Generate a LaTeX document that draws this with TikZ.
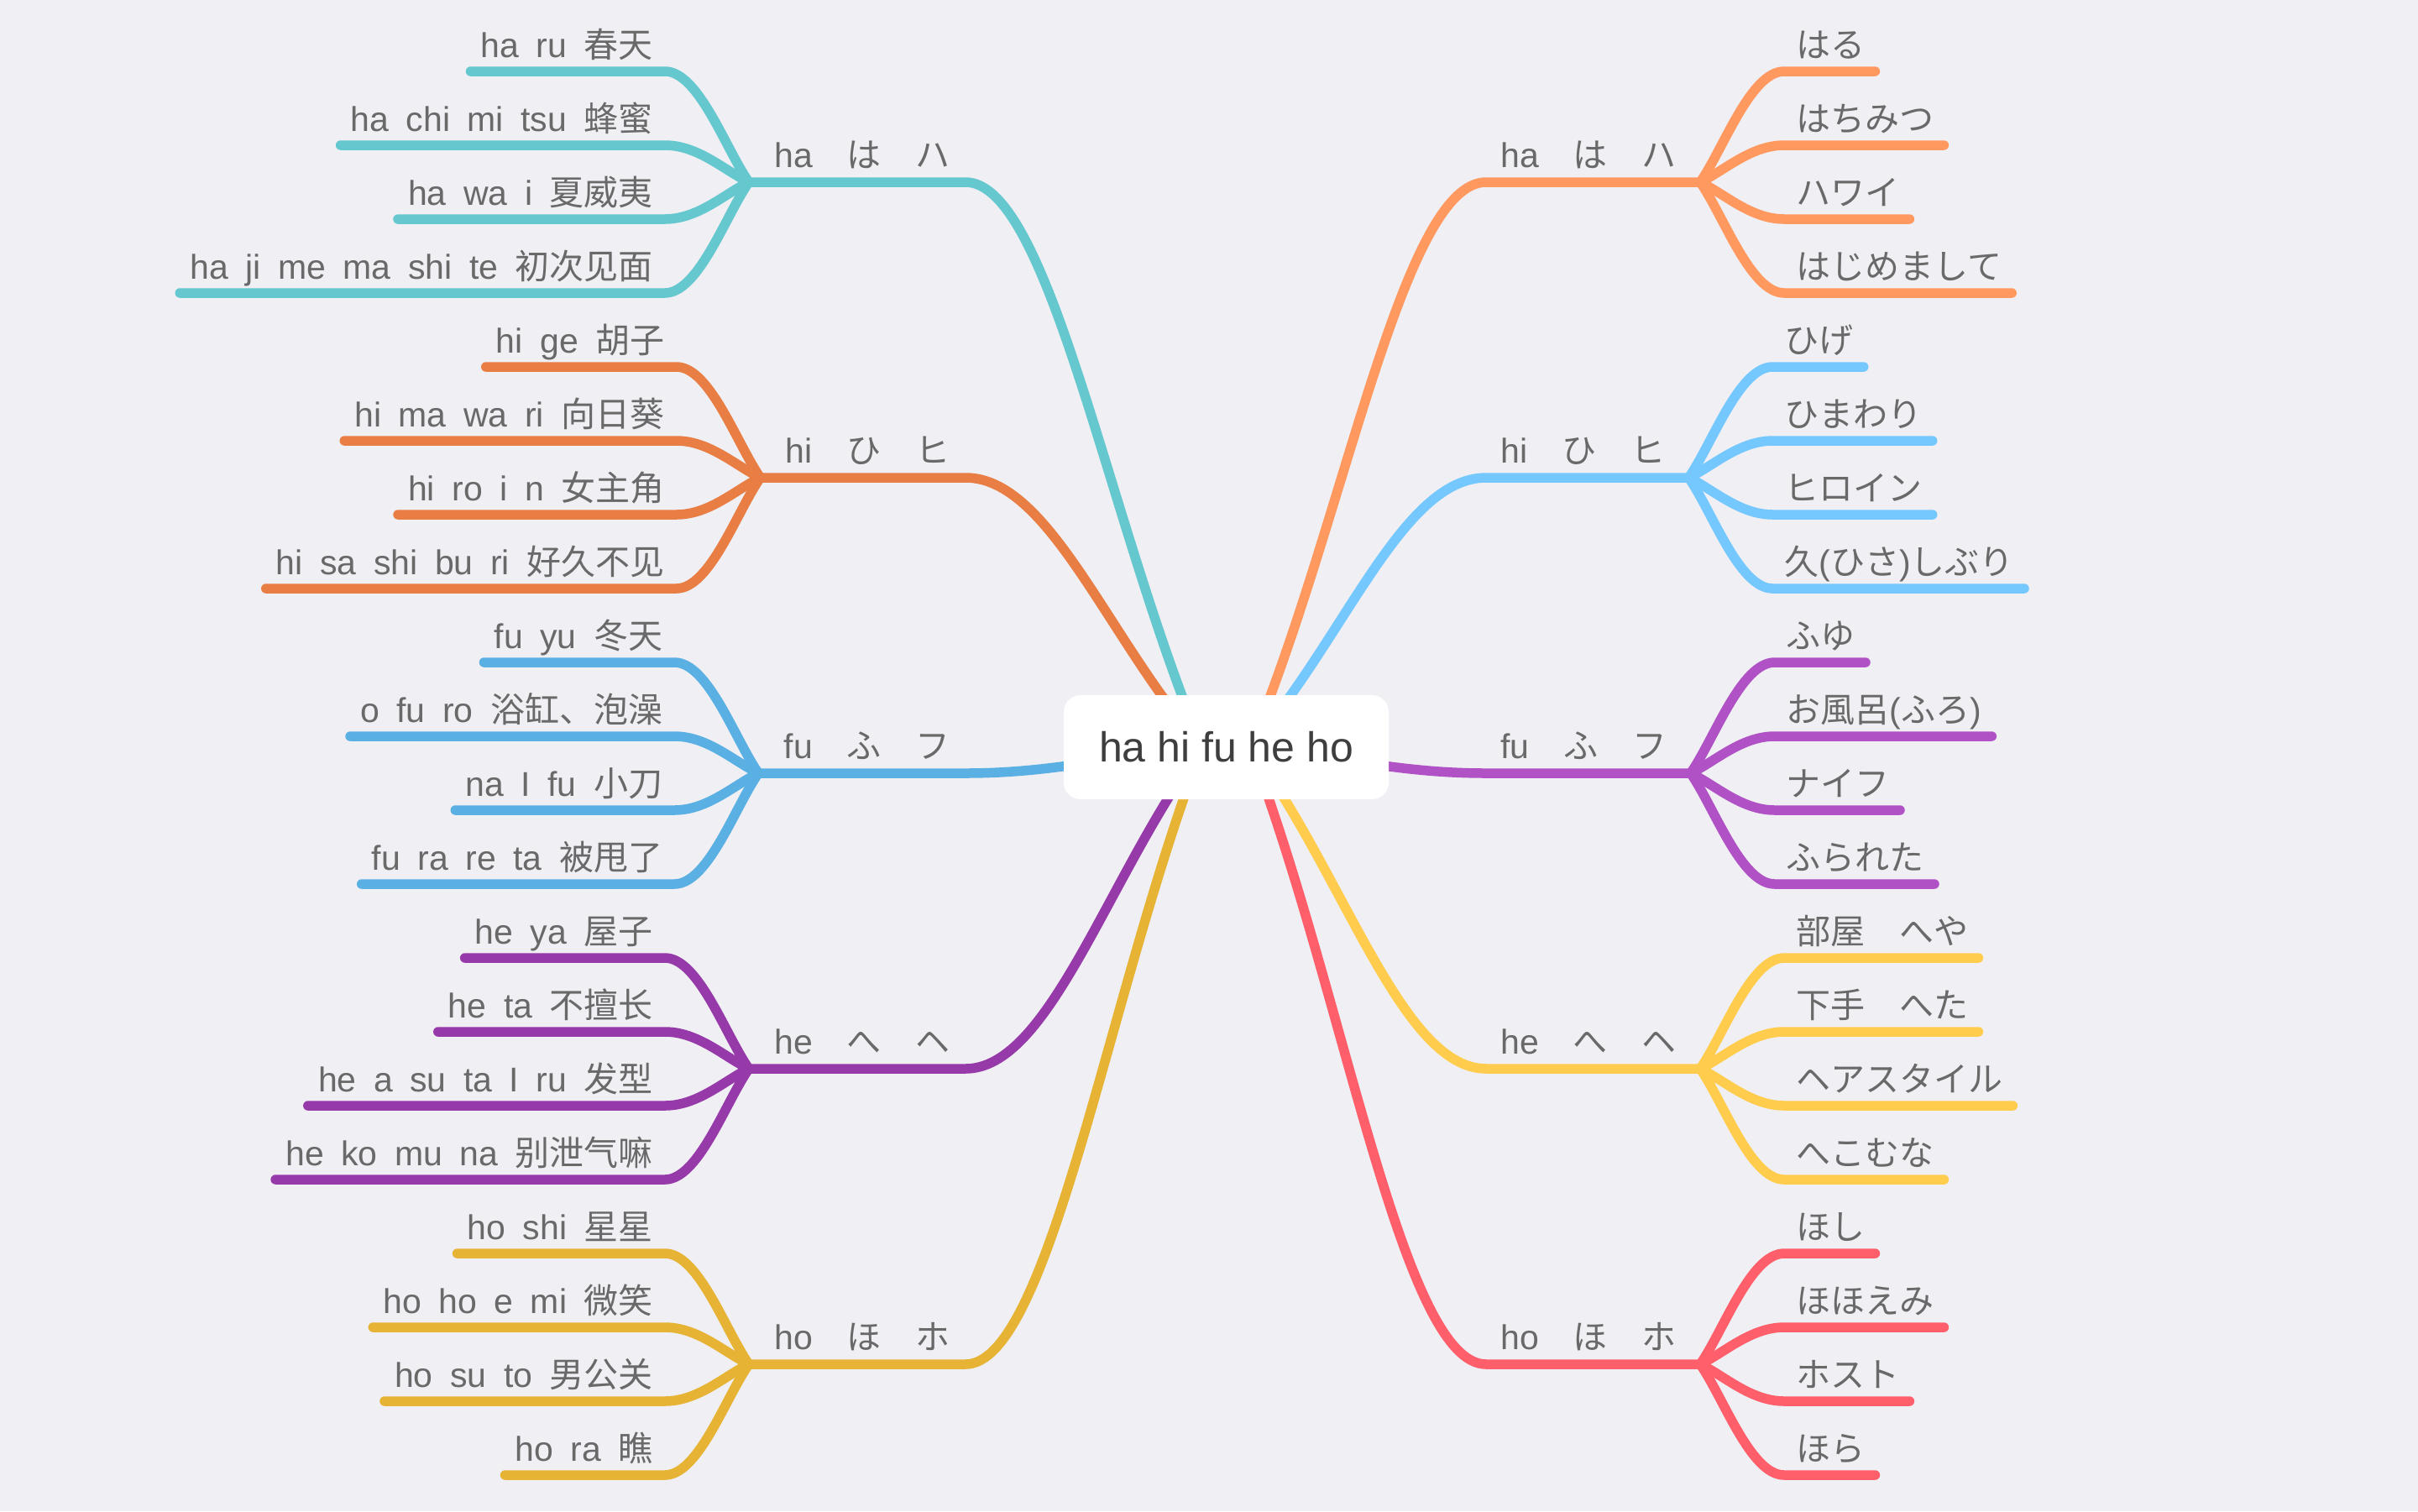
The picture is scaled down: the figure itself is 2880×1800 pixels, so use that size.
\documentclass[tikz,border=0pt]{standalone}
\usepackage{fontspec}
\setmainfont{Liberation Sans}
\newfontfamily\leaffont{Liberation Sans}[WordSpace=1.8]
\newfontfamily\zhfont{Noto Sans CJK SC}
\newfontfamily\jafont{Noto Sans CJK JP}
\newcommand\zh[1]{{\zhfont #1}}
\newcommand\ja[1]{{\jafont #1}}
\usetikzlibrary{calc}

\definecolor{bgcol}{RGB}{239,239,244}
\definecolor{txtgray}{HTML}{696969}
\definecolor{roottxt}{HTML}{3E3E3E}
% left branches
\definecolor{cHaL}{HTML}{64C8CE}
\definecolor{cHiL}{HTML}{E97E45}
\definecolor{cFuL}{HTML}{5AB0E3}
\definecolor{cHeL}{HTML}{9639A9}
\definecolor{cHoL}{HTML}{E6B334}
% right branches
\definecolor{cHaR}{HTML}{FF995F}
\definecolor{cHiR}{HTML}{75C8FD}
\definecolor{cFuR}{HTML}{B052C5}
\definecolor{cHeR}{HTML}{FFCC4D}
\definecolor{cHoR}{HTML}{FF5F6B}

\tikzset{
  leaftxt/.style={inner sep=0pt, text=txtgray, font=\leaffont\fontsize{41}{48}\selectfont},
  blabel/.style={inner sep=0pt, text=txtgray, font=\leaffont\fontsize{41}{48}\selectfont},
  leafln/.style={line width=11.5pt, line cap=round, line join=round},
  branchln/.style={line width=11.5pt, line cap=round, line join=round},
  rootbox/.style={fill=white, rounded corners=20pt, minimum width=387pt,
    minimum height=124pt, inner sep=0pt, text=roottxt,
    font=\fontsize{50}{60}\selectfont},
}

% one leaf on the left: name, colour, index, dy, control dy, text
\newcommand\leftleaf[6]{%
  \coordinate (#1E#3) at ($(#1F)+(-100,#4)$);
  \node[leaftxt,anchor=base east] (#1T#3) at ($(#1E#3)+(-14,-17)$) {#6};
  \draw[leafln,#2] ($(#1T#3.west |- #1E#3)+(-12,0)$) -- (#1E#3)
    .. controls ($(#1E#3)+(40,0)$) and ($(#1F)+(-28,#5)$) .. (#1F);
}
% one leaf on the right
\newcommand\rightleaf[6]{%
  \coordinate (#1E#3) at ($(#1F)+(100,#4)$);
  \node[leaftxt,anchor=base west] (#1T#3) at ($(#1E#3)+(14,-17)$) {#6};
  \draw[leafln,#2] (#1F)
    .. controls ($(#1F)+(28,#5)$) and ($(#1E#3)+(-40,0)$) .. (#1E#3)
    -- ($(#1T#3.east |- #1E#3)+(12,0)$);
}
% a main branch on the left: name, colour, y, label, four leaves
\newcommand\leftbranch[8]{%
  \coordinate (#1B) at (1150,#3);
  \node[blabel,anchor=base east] (#1L) at (1132,{#3-18}) {#4};
  \coordinate (#1F) at ($(#1L.west |- #1B)+(-30,0)$);
  \draw[branchln,#2] (rootL) .. controls ($(rootL)!0.4!(#1B)$) and ($(#1B)+(100,0)$) .. (#1B) -- (#1F);
  \leftleaf{#1}{#2}{1}{-132}{-40}{#5}%
  \leftleaf{#1}{#2}{2}{-44}{-13}{#6}%
  \leftleaf{#1}{#2}{3}{44}{13}{#7}%
  \leftleaf{#1}{#2}{4}{132}{40}{#8}%
}
% a main branch on the right
\newcommand\rightbranch[8]{%
  \coordinate (#1B) at (1770,#3);
  \node[blabel,anchor=base west] (#1L) at (1787,{#3-18}) {#4};
  \coordinate (#1F) at ($(#1L.east |- #1B)+(28,0)$);
  \draw[branchln,#2] (rootR) .. controls ($(rootR)!0.4!(#1B)$) and ($(#1B)+(-100,0)$) .. (#1B) -- (#1F);
  \rightleaf{#1}{#2}{1}{-132}{-40}{#5}%
  \rightleaf{#1}{#2}{2}{-44}{-13}{#6}%
  \rightleaf{#1}{#2}{3}{44}{13}{#7}%
  \rightleaf{#1}{#2}{4}{132}{40}{#8}%
}

\begin{document}
\begin{tikzpicture}[x=1pt,y=-1pt]
  \fill[bgcol] (0,0) rectangle (2880,1800);
  \useasboundingbox (0,0) rectangle (2880,1800);

  \coordinate (rootL) at (1432,890);
  \coordinate (rootR) at (1489,890);

  \leftbranch{lha}{cHaL}{217}{ha\ja{　は　ハ}}
    {ha ru \zh{春天}}{ha chi mi tsu \zh{蜂蜜}}{ha wa i \zh{夏威夷}}{ha ji me ma shi te \zh{初次见面}}
  \leftbranch{lhi}{cHiL}{569}{hi\ja{　ひ　ヒ}}
    {hi ge \zh{胡子}}{hi ma wa ri \zh{向日葵}}{hi ro i n \zh{女主角}}{hi sa shi bu ri \zh{好久不见}}
  \leftbranch{lfu}{cFuL}{921}{fu\ja{　ふ　フ}}
    {fu yu \zh{冬天}}{o fu ro \zh{浴缸、泡澡}}{na I fu \zh{小刀}}{fu ra re ta \zh{被甩了}}
  \leftbranch{lhe}{cHeL}{1273}{he\ja{　へ　ヘ}}
    {he ya \zh{屋子}}{he ta \zh{不擅长}}{he a su ta I ru \zh{发型}}{he ko mu na \zh{别泄气嘛}}
  \leftbranch{lho}{cHoL}{1625}{ho\ja{　ほ　ホ}}
    {ho shi \zh{星星}}{ho ho e mi \zh{微笑}}{ho su to \zh{男公关}}{ho ra \zh{瞧}}

  \rightbranch{rha}{cHaR}{217}{ha\ja{　は　ハ}}
    {\ja{はる}}{\ja{はちみつ}}{\ja{ハワイ}}{\ja{はじめまして}}
  \rightbranch{rhi}{cHiR}{569}{hi\ja{　ひ　ヒ}}
    {\ja{ひげ}}{\ja{ひまわり}}{\ja{ヒロイン}}{\ja{久}(\ja{ひさ})\ja{しぶり}}
  \rightbranch{rfu}{cFuR}{921}{fu\ja{　ふ　フ}}
    {\ja{ふゆ}}{\ja{お風呂}(\ja{ふろ})}{\ja{ナイフ}}{\ja{ふられた}}
  \rightbranch{rhe}{cHeR}{1273}{he\ja{　へ　ヘ}}
    {\ja{部屋　へや}}{\ja{下手　へた}}{\ja{ヘアスタイル}}{\ja{へこむな}}
  \rightbranch{rho}{cHoR}{1625}{ho\ja{　ほ　ホ}}
    {\ja{ほし}}{\ja{ほほえみ}}{\ja{ホスト}}{\ja{ほら}}

  \node[rootbox] (root) at (1460.5,890) {ha hi fu he ho};
\end{tikzpicture}
\end{document}
